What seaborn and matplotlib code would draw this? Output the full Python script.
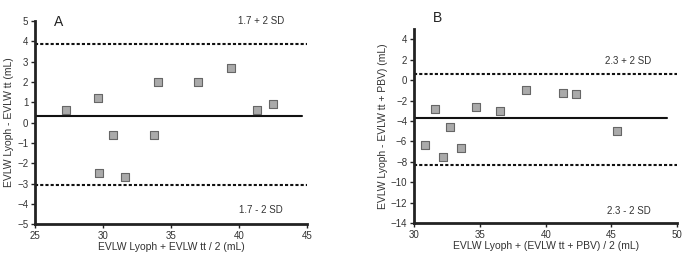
import matplotlib
matplotlib.use("Agg")
import matplotlib.pyplot as plt
import pandas as pd
import seaborn as sns

# Panel A data
meanA_x = [27.3, 29.6, 29.7, 30.7, 31.6, 33.7, 34.0, 37.0, 39.4, 41.3, 42.5]
diffA_y = [0.6, 1.2, -2.5, -0.6, -2.7, -0.6, 2.0, 2.0, 2.7, 0.6, 0.9]
biasA = 0.3
upperA = 3.85
lowerA = -3.05

# Panel B data
meanB_x = [30.8, 31.6, 32.2, 32.7, 33.6, 34.7, 36.5, 38.5, 41.3, 42.3, 45.4]
diffB_y = [-6.4, -2.8, -7.5, -4.6, -6.6, -2.6, -3.0, -1.0, -1.3, -1.4, -5.0]
biasB = -3.7
upperB = 0.6
lowerB = -8.3

dfA = pd.DataFrame({"x": meanA_x, "y": diffA_y})
dfB = pd.DataFrame({"x": meanB_x, "y": diffB_y})

sns.set_style("white")
plt.rcParams['font.family'] = ['Liberation Sans', 'DejaVu Sans']
txt = "#333333"

fig = plt.figure(figsize=(6.89, 2.6), dpi=100)
axA = fig.add_axes([0.051, 0.138, 0.395, 0.781])
axB = fig.add_axes([0.601, 0.142, 0.382, 0.746])


def style(ax):
    sns.despine(ax=ax)
    for s in ["left", "bottom"]:
        ax.spines[s].set_linewidth(2)
        ax.spines[s].set_color("#222222")
    ax.tick_params(axis="both", direction="out", length=3, width=1,
                   colors="#222222", labelsize=7, labelcolor=txt,
                   left=True, bottom=True, pad=2)


sns.scatterplot(data=dfA, x="x", y="y", ax=axA, marker="s", s=28,
                color="#aaaaaa", edgecolor="#666666", linewidth=0.8, zorder=3)
axA.plot([25, 44.6], [biasA, biasA], color="#111111", lw=1.5)
axA.plot([25, 45], [upperA, upperA], color="#111111", lw=1.5, ls=(0, (1.5, 1)))
axA.plot([25, 45], [lowerA, lowerA], color="#111111", lw=1.5, ls=(0, (1.5, 1)))
axA.set_xlim(25, 45)
axA.set_ylim(-5, 5)
axA.set_xticks([25, 30, 35, 40, 45])
axA.set_yticks(range(-5, 6))
axA.set_xlabel("EVLW Lyoph + EVLW tt / 2 (mL)", fontsize=7.5, color=txt, labelpad=1)
axA.set_ylabel("EVLW Lyoph - EVLW tt (mL)", fontsize=7.5, color=txt, labelpad=2)
axA.text(26.7, 4.95, "A", fontsize=10, color="#222222", ha="center", va="center")
axA.text(41.6, 5.0, "1.7 + 2 SD", fontsize=7, color=txt, ha="center", va="center")
axA.text(41.6, -4.3, "1.7 - 2 SD", fontsize=7, color=txt, ha="center", va="center")
style(axA)

sns.scatterplot(data=dfB, x="x", y="y", ax=axB, marker="s", s=28,
                color="#aaaaaa", edgecolor="#666666", linewidth=0.8, zorder=3)
axB.plot([30, 49.2], [biasB, biasB], color="#111111", lw=1.5)
axB.plot([30, 50], [upperB, upperB], color="#111111", lw=1.5, ls=(0, (1.5, 1)))
axB.plot([30, 50], [lowerB, lowerB], color="#111111", lw=1.5, ls=(0, (1.5, 1)))
axB.set_xlim(30, 50)
axB.set_ylim(-14, 5)
axB.set_xticks([30, 35, 40, 45, 50])
axB.set_yticks(range(-14, 5, 2))
axB.set_xlabel("EVLW Lyoph + (EVLW tt + PBV) / 2 (mL)", fontsize=7.5, color=txt, labelpad=1)
axB.set_ylabel("EVLW Lyoph - EVLW tt + PBV) (mL)", fontsize=7.5, color=txt, labelpad=2)
axB.text(31.8, 6.1, "B", fontsize=10, color="#222222", ha="center", va="center", clip_on=False)
axB.text(46.3, 1.9, "2.3 + 2 SD", fontsize=7, color=txt, ha="center", va="center")
axB.text(46.3, -12.8, "2.3 - 2 SD", fontsize=7, color=txt, ha="center", va="center")
style(axB)

fig.savefig("out.png", dpi=100)
